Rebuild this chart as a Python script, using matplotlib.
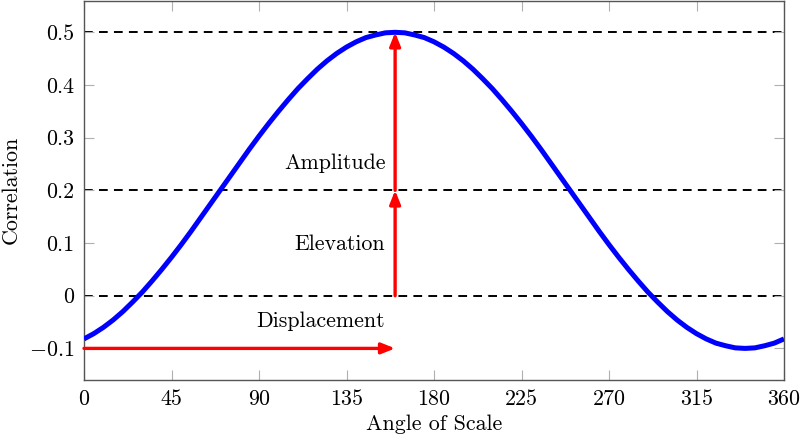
import matplotlib

matplotlib.use('agg')

import matplotlib.pyplot as plt

# curve values, every 5 degrees
angle = list(range(0, 361, 5))
corr = [-0.082, -0.072, -0.060, -0.046, -0.030, -0.012, 0.007, 0.028,
        0.050, 0.073, 0.097, 0.122, 0.148, 0.174, 0.200, 0.226, 0.252,
        0.278, 0.303, 0.327, 0.350, 0.372, 0.393, 0.412, 0.430, 0.446,
        0.460, 0.472, 0.482, 0.490, 0.495, 0.499, 0.500, 0.499, 0.495,
        0.490, 0.482, 0.472, 0.460, 0.446, 0.430, 0.412, 0.393, 0.372,
        0.350, 0.327, 0.303, 0.278, 0.252, 0.226, 0.200, 0.174, 0.148,
        0.122, 0.097, 0.073, 0.050, 0.028, 0.007, -0.012, -0.030, -0.046,
        -0.060, -0.072, -0.082, -0.090, -0.095, -0.099, -0.100, -0.099,
        -0.095, -0.090, -0.082]

levels = [0.5, 0.2, 0.0]
displacement = 160
elevation = 0.2
amplitude = 0.3
baseline = -0.1

xticks = [0, 45, 90, 135, 180, 225, 270, 315, 360]
yticks = [-0.1, 0, 0.1, 0.2, 0.3, 0.4, 0.5]
ytick_labels = ['$-0.1$', '0', '0.1', '0.2', '0.3', '0.4', '0.5']

plt.rcParams['font.family'] = 'serif'
plt.rcParams['font.serif'] = ['cmr10']
plt.rcParams['mathtext.fontset'] = 'cm'
plt.rcParams['axes.formatter.use_mathtext'] = True

fig = plt.figure(figsize=(8, 4.38), dpi=100)
ax = fig.add_axes([0.105, 0.1324, 0.875, 0.866])

for lv in levels:
    ax.axhline(lv, color='black', lw=1.4, ls=(0, (4.5, 3.2)), zorder=1)

ax.plot(angle, corr, color='#0000ff', lw=3.6, zorder=3,
        solid_capstyle='butt', solid_joinstyle='round')

arrow = dict(arrowstyle='-|>,head_length=0.8,head_width=0.32', color='#ff0000',
             lw=2.4, shrinkA=0, shrinkB=0)
ax.annotate('', xy=(displacement, baseline), xytext=(0, baseline),
            arrowprops=arrow, zorder=4)
ax.annotate('', xy=(displacement, elevation), xytext=(displacement, 0),
            arrowprops=arrow, zorder=4)
ax.annotate('', xy=(displacement, elevation + amplitude),
            xytext=(displacement, elevation), arrowprops=arrow, zorder=4)

ax.text(155, 0.252, 'Amplitude', ha='right', va='center', fontsize=15.8)
ax.text(155, 0.097, 'Elevation', ha='right', va='center', fontsize=15.8)
ax.text(155, -0.049, 'Displacement', ha='right', va='center', fontsize=15.8)

ax.set_xlim(0, 360)
ax.set_ylim(-0.16, 0.56)
ax.set_xticks(xticks)
ax.set_xticklabels([str(t) for t in xticks])
ax.set_yticks(yticks)
ax.set_yticklabels(ytick_labels)
ax.tick_params(direction='in', length=7, width=0.8, color='#b0b0b0',
               top=True, right=True, labelsize=15.8, pad=7)
for s in ax.spines.values():
    s.set_color('#555555')
    s.set_linewidth(1.0)

ax.set_xlabel('Angle of Scale', fontsize=15.8, labelpad=4)
ax.set_ylabel('Correlation', fontsize=15.8, labelpad=6)

fig.savefig('out.png', dpi=100)
